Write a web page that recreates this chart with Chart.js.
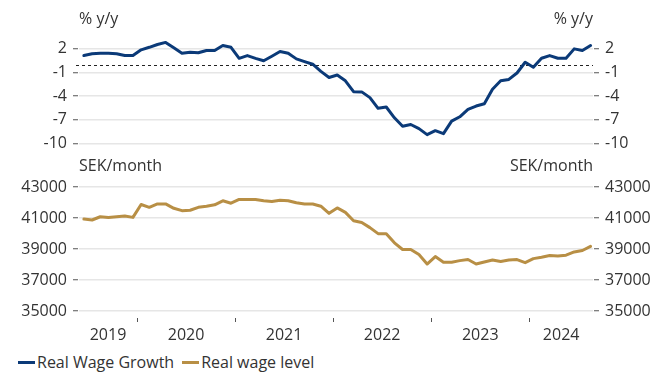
<!DOCTYPE html>
<html>
<head>
<meta charset="utf-8">
<script src="https://cdn.jsdelivr.net/npm/chart.js@4/dist/chart.umd.min.js"></script>
<style>
  body { margin: 0; background: #fff; font-family: "Open Sans", sans-serif; }
  .wrap { position: relative; width: 667px; height: 374px; overflow: hidden; }
  #growth-chart { position: absolute; left: 0; top: 0; }
  #level-chart { position: absolute; left: 0; top: 150px; }
  .legend { position: absolute; left: 18px; top: 351px; display: flex; align-items: center; font-size: 16px; color: #333; line-height: 22px; }
  .legend .item { display: flex; align-items: center; margin-right: 8px; }
  .legend .mark { display: inline-block; width: 17px; height: 3px; margin-right: 2px; }
</style>
</head>
<body>
<div class="wrap">
  <canvas id="growth-chart" width="667" height="158"></canvas>
  <canvas id="level-chart" width="667" height="197"></canvas>
  <div class="legend" id="legend"></div>
</div>
<script>
// Monthly series, first month June 2019, last month August 2024
const firstYear = 2019;
const firstMonth = 6;
const years = ["2019", "2020", "2021", "2022", "2023", "2024"];

// Real wage growth, % y/y
const wageGrowth = [
  1.15, 1.37, 1.45, 1.45, 1.37, 1.15, 1.15,
  1.88, 2.2, 2.56, 2.82, 2.15, 1.45, 1.58, 1.5, 1.8, 1.8, 2.43, 2.2,
  0.8, 1.15, 0.8, 0.5, 1.07, 1.67, 1.45, 0.73, 0.38, 0.05, -0.86, -1.63,
  -1.32, -2.05, -3.44, -3.46, -4.19, -5.55, -5.38, -6.75, -7.82, -7.6, -8.12, -8.89,
  -8.38, -8.76, -7.18, -6.62, -5.68, -5.26, -4.96, -3.12, -2.05, -1.88, -1.06, 0.3,
  -0.34, 0.81, 1.15, 0.81, 0.81, 2.0, 1.8, 2.43,
];

// Real wage level, SEK/month
const wageLevel = [
  40930, 40870, 41080, 41040, 41080, 41130, 41040,
  41870, 41690, 41910, 41910, 41625, 41475, 41500, 41690, 41760, 41850, 42110, 41955,
  42195, 42195, 42195, 42110, 42060, 42150, 42110, 41980, 41910, 41900, 41760, 41300,
  41650, 41365, 40820, 40710, 40380, 39990, 39990, 39400, 38970, 38970, 38640, 38030,
  38510, 38140, 38140, 38250, 38320, 38030, 38160, 38290, 38200, 38290, 38320, 38120,
  38380, 38470, 38575, 38555, 38600, 38810, 38905, 39170,
];

const growthTicks = [2, -1, -4, -7, -10];
const levelTicks = [35000, 37000, 39000, 41000, 43000];

const blue = "#0b3a78";
const gold = "#b88f45";
const textColor = "#333333";
const gridColor = "#e6e6e6";
const tickMarkColor = "#555555";

const months = wageGrowth.map((_, i) => {
  const m = firstMonth - 1 + i;
  return `${firstYear + Math.floor(m / 12)}-${String((m % 12) + 1).padStart(2, "0")}`;
});

const xMin = -0.6;
const xMax = wageGrowth.length - 0.7;

// Year boundaries sit between December and January
const yearBreaks = years.slice(1).map((_, k) => 12 - firstMonth + 0.5 + 12 * k);
const yearCenters = years.map((_, k) => {
  const from = k === 0 ? xMin : yearBreaks[k - 1];
  const to = k === years.length - 1 ? xMax : yearBreaks[k];
  return (from + to) / 2;
});

Chart.defaults.font.family = '"Open Sans", sans-serif';
Chart.defaults.font.size = 16;
Chart.defaults.color = textColor;

const toPoints = (arr) => arr.map((v, i) => ({ x: i, y: v }));

// Unit labels above the left and right axes
const unitLabels = {
  id: "unitLabels",
  afterDraw(chart, args, opts) {
    const { ctx, chartArea } = chart;
    ctx.save();
    ctx.font = '16px "Open Sans", sans-serif';
    ctx.fillStyle = textColor;
    ctx.textBaseline = "middle";
    ctx.textAlign = "left";
    ctx.fillText(opts.text, chartArea.left, opts.y);
    ctx.textAlign = "right";
    ctx.fillText(opts.text, chartArea.right, opts.y);
    ctx.restore();
  },
};

// Dashed line at zero
const zeroLine = {
  id: "zeroLine",
  beforeDatasetsDraw(chart) {
    const scale = chart.scales.yL;
    if (!scale) return;
    const { ctx, chartArea } = chart;
    const y = Math.round(scale.getPixelForValue(0)) + 0.5;
    ctx.save();
    ctx.strokeStyle = "#222";
    ctx.lineWidth = 1;
    ctx.setLineDash([3, 3]);
    ctx.beginPath();
    ctx.moveTo(chartArea.left - 3, y);
    ctx.lineTo(chartArea.right, y);
    ctx.stroke();
    ctx.restore();
  },
};

const yAxis = (position, min, max, step, labels, drawGrid) => ({
  position,
  min,
  max,
  border: { display: false },
  grid: {
    drawOnChartArea: drawGrid,
    color: (ctx) => (ctx.tick && ctx.tick.value === 0 && min < 0 ? "transparent" : gridColor),
    lineWidth: 1.5,
    tickLength: 7,
    tickColor: tickMarkColor,
    tickWidth: 1,
    tickBorderDash: [0, 1, 5, 40],
  },
  ticks: {
    stepSize: step,
    padding: 5,
    callback: (v) => (labels.includes(v) ? String(v) : ""),
  },
  afterFit: (scale) => {
    scale.width = position === "left" ? 79 : 74;
  },
});

const lineStyle = {
  borderWidth: 3,
  pointRadius: 0,
  tension: 0,
  borderJoinStyle: "round",
  borderCapStyle: "round",
};

// Real Wage Growth
new Chart(document.querySelector("#growth-chart"), {
  type: "line",
  data: {
    labels: months,
    datasets: [
      {
        label: "Real Wage Growth",
        data: toPoints(wageGrowth),
        borderColor: blue,
        yAxisID: "yL",
        ...lineStyle,
      },
    ],
  },
  options: {
    responsive: false,
    animation: false,
    layout: { padding: { top: 41, bottom: 13, left: 0, right: 0 } },
    plugins: {
      legend: { display: false },
      tooltip: { enabled: false },
      unitLabels: { text: "% y/y", y: 19 },
    },
    scales: {
      x: { type: "linear", min: xMin, max: xMax, display: false },
      yL: yAxis("left", -10, 3, 1, growthTicks, true),
      yR: yAxis("right", -10, 3, 1, growthTicks, false),
    },
  },
  plugins: [unitLabels, zeroLine],
});

// Real wage level
new Chart(document.querySelector("#level-chart"), {
  type: "line",
  data: {
    labels: months,
    datasets: [
      {
        label: "Real wage level",
        data: toPoints(wageLevel),
        borderColor: gold,
        yAxisID: "yL2",
        ...lineStyle,
      },
    ],
  },
  options: {
    responsive: false,
    animation: false,
    layout: { padding: { top: 37, bottom: 0, left: 0, right: 0 } },
    plugins: {
      legend: { display: false },
      tooltip: { enabled: false },
      unitLabels: { text: "SEK/month", y: 16 },
    },
    scales: {
      x: {
        type: "linear",
        min: xMin,
        max: xMax,
        border: { display: false },
        grid: {
          drawOnChartArea: false,
          tickLength: 11,
          tickWidth: 1,
          tickColor: (ctx) => (ctx.tick && yearBreaks.includes(ctx.tick.value) ? tickMarkColor : "transparent"),
          tickBorderDash: [0, 7, 4, 40],
        },
        afterBuildTicks: (scale) => {
          scale.ticks = [...yearBreaks, ...yearCenters]
            .sort((a, b) => a - b)
            .map((value) => ({ value }));
        },
        ticks: {
          autoSkip: false,
          maxRotation: 0,
          padding: 4,
          callback: (value) => {
            const k = yearCenters.indexOf(value);
            return k >= 0 ? years[k] : "";
          },
        },
        afterFit: (scale) => {
          scale.height = 36;
        },
      },
      yL2: yAxis("left", 35000, 43000, 2000, levelTicks, true),
      yR2: yAxis("right", 35000, 43000, 2000, levelTicks, false),
    },
  },
  plugins: [unitLabels],
});

// Legend
const legend = document.querySelector("#legend");
[
  { label: "Real Wage Growth", color: blue },
  { label: "Real wage level", color: gold },
].forEach((item) => {
  const el = document.createElement("span");
  el.className = "item";
  el.innerHTML = `<span class="mark" style="background:${item.color}"></span>${item.label}`;
  legend.appendChild(el);
});
</script>
</body>
</html>
